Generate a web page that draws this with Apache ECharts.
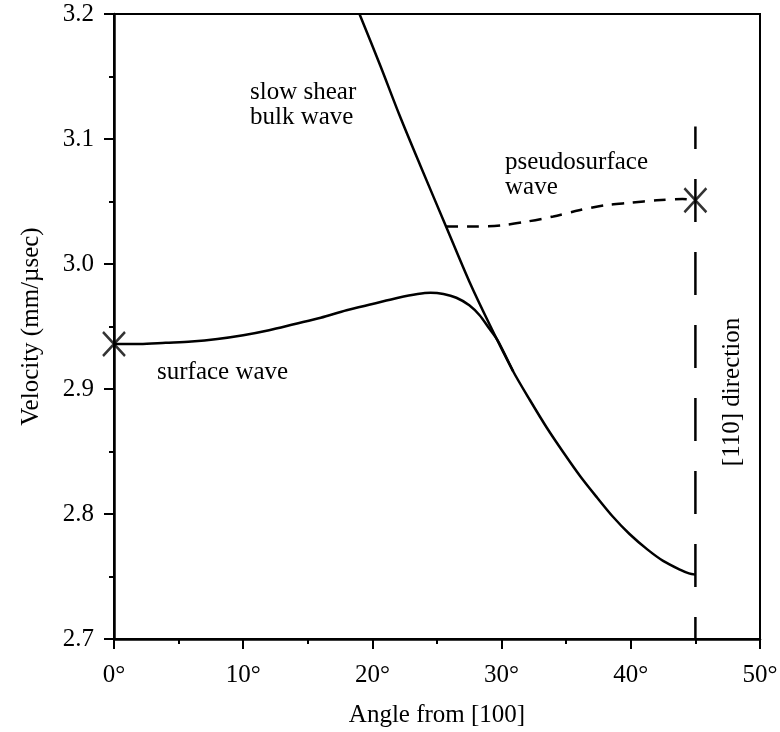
<!DOCTYPE html>
<html><head><meta charset="utf-8">
<script src="https://cdn.jsdelivr.net/npm/echarts@6/dist/echarts.min.js"></script>
<style>html,body{margin:0;padding:0;background:#fff}#c{width:780px;height:732px}</style>
</head><body><div id="c"></div>
<script>
// ---- data ----
const xTickValues = [0, 10, 20, 30, 40, 50];
const yTickValues = [2.7, 2.8, 2.9, 3.0, 3.1, 3.2];

const surfaceAngle = [0, 2, 4, 6, 8, 10, 12, 14, 16, 18, 20, 22, 23.5, 24.5, 25.5, 26.5, 27.5, 28.3, 29, 29.5, 29.8, 30.9];
const surfaceVel   = [2.936, 2.936, 2.937, 2.938, 2.940, 2.943, 2.947, 2.952, 2.957, 2.963, 2.968, 2.973, 2.976, 2.977, 2.976, 2.973, 2.967, 2.959, 2.949, 2.942, 2.937, 2.914];

const bulkAngle = [19.0, 20.6, 22.1, 23.7, 25.7, 27.5, 29.1, 30.9, 32.2, 33.5, 34.8, 36.1, 37.4, 38.6, 39.9, 41.3, 42.5, 43.8, 44.5, 45];
const bulkVel   = [3.200, 3.159, 3.119, 3.079, 3.030, 2.986, 2.951, 2.914, 2.891, 2.869, 2.849, 2.830, 2.813, 2.798, 2.784, 2.7715, 2.7625, 2.7555, 2.7525, 2.7515];

const pseudoAngle = [25.7, 28, 30, 32, 34, 36, 38, 40, 42, 44, 45];
const pseudoVel   = [3.030, 3.030, 3.031, 3.034, 3.038, 3.043, 3.047, 3.049, 3.051, 3.052, 3.051];

const endpointAngle = [0, 45];
const endpointVel   = [2.936, 3.051];

const directionAngle = [45, 45];
const directionVel   = [2.7, 3.11];

const annotations = [
  'slow shear', 'bulk wave', 'pseudosurface', 'wave', 'surface wave', '[110] direction'
];
const xAxisTitle = 'Angle from [100]';
const yAxisTitle = 'Velocity (mm/\u00b5sec)';

// ---- chart ----
const zip = (a, b) => a.map((v, i) => [v, b[i]]);
const FONT = 'Liberation Serif';
const chart = echarts.init(document.getElementById('c'), null, {renderer: 'canvas'});
const lineBase = {type: 'line', showSymbol: false, symbol: 'none', animation: false, silent: true};
const LW = 2.5;

const option = {
  backgroundColor: '#fff',
  animation: false,
  grid: {left: 114, right: 20, top: 14, bottom: 93, containLabel: false, outerBoundsMode: 'none',
         show: true, borderColor: '#000', borderWidth: 2, backgroundColor: 'transparent'},
  xAxis: {
    type: 'value', min: xTickValues[0], max: xTickValues[xTickValues.length - 1], interval: 10,
    axisLine: {show: true, onZero: false, lineStyle: {color: '#000', width: 2.5}},
    axisTick: {show: true, inside: false, length: 10, lineStyle: {color: '#000', width: 2}},
    minorTick: {show: true, splitNumber: 2, length: 5, lineStyle: {color: '#000', width: 2}},
    splitLine: {show: false},
    axisLabel: {margin: 24, color: '#000', fontFamily: FONT, fontSize: 25, formatter: v => v + '\u00b0'},
    name: xAxisTitle, nameLocation: 'middle', nameGap: 64,
    nameTextStyle: {color: '#000', fontFamily: FONT, fontSize: 25}
  },
  yAxis: {
    type: 'value', min: yTickValues[0], max: yTickValues[yTickValues.length - 1], interval: 0.1,
    axisLine: {show: true, onZero: false, lineStyle: {color: '#000', width: 2.5}},
    axisTick: {show: true, inside: false, length: 10, lineStyle: {color: '#000', width: 2}},
    minorTick: {show: true, splitNumber: 2, length: 5, lineStyle: {color: '#000', width: 2}},
    splitLine: {show: false},
    axisLabel: {margin: 20, color: '#000', fontFamily: FONT, fontSize: 25, formatter: v => v.toFixed(1)},
    name: yAxisTitle, nameLocation: 'middle', nameGap: 70,
    nameTextStyle: {color: '#000', fontFamily: FONT, fontSize: 25}
  },
  series: [
    Object.assign({}, lineBase, {name: 'surface', data: zip(surfaceAngle, surfaceVel), smooth: 0.3,
      lineStyle: {color: '#000', width: LW}}),
    Object.assign({}, lineBase, {name: 'bulk', data: zip(bulkAngle, bulkVel), smooth: 0.3,
      lineStyle: {color: '#000', width: LW}}),
    Object.assign({}, lineBase, {name: 'pseudo', data: zip(pseudoAngle, pseudoVel), smooth: 0.3,
      lineStyle: {color: '#000', width: LW, type: [12, 9]}}),
    Object.assign({}, lineBase, {name: 'direction', data: zip(directionAngle, directionVel),
      lineStyle: {color: '#000', width: LW, type: [43, 30], dashOffset: 21}}),
    {type: 'scatter', name: 'endpoints', data: zip(endpointAngle, endpointVel), animation: false, silent: true,
      symbol: 'path://M0,0L20,22M20,0L0,22', symbolSize: [22, 24], z: 5,
      itemStyle: {color: 'rgba(0,0,0,0)', borderColor: '#000', borderWidth: 2.5}}
  ],
  graphic: [
    {type: 'text', x: 250, y: 92, style: {text: annotations[0], font: '25px "Liberation Serif"', fill: '#000', verticalAlign: 'middle'}},
    {type: 'text', x: 250, y: 117, style: {text: annotations[1], font: '25px "Liberation Serif"', fill: '#000', verticalAlign: 'middle'}},
    {type: 'text', x: 505, y: 162, style: {text: annotations[2], font: '25px "Liberation Serif"', fill: '#000', verticalAlign: 'middle'}},
    {type: 'text', x: 505, y: 187, style: {text: annotations[3], font: '25px "Liberation Serif"', fill: '#000', verticalAlign: 'middle'}},
    {type: 'text', x: 157, y: 372, style: {text: annotations[4], font: '25px "Liberation Serif"', fill: '#000', verticalAlign: 'middle'}},
    {type: 'text', x: 732, y: 392, rotation: Math.PI / 2, style: {text: annotations[5], font: '25px "Liberation Serif"', fill: '#000', align: 'center', verticalAlign: 'middle'}}
  ]
};
chart.setOption(option);
</script>
</body></html>
